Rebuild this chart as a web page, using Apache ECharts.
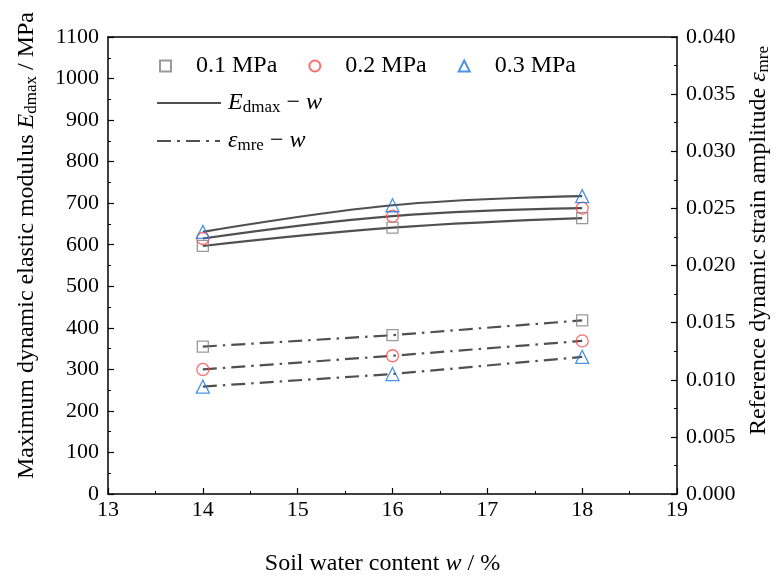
<!DOCTYPE html>
<html>
<head>
<meta charset="utf-8">
<script src="https://cdn.jsdelivr.net/npm/echarts@6/dist/echarts.min.js"></script>
<style>
html,body{margin:0;padding:0;background:#fff;}
#chart{width:781px;height:581px;}
</style>
</head>
<body>
<div id="chart"></div>
<script>
// data
var waterContent = [14, 16, 18];
var pressures = ['0.1 MPa', '0.2 MPa', '0.3 MPa'];
var edmax01 = [597, 641, 664];
var edmax02 = [615, 669, 688];
var edmax03 = [631, 695, 717];
var emre01 = [0.0129, 0.0139, 0.0152];
var emre02 = [0.0109, 0.0121, 0.0134];
var emre03 = [0.0094, 0.0105, 0.0120];
var xTicks = [13, 14, 15, 16, 17, 18, 19];

var font = 'Liberation Serif';
var symbols = ['rect', 'circle', 'triangle'];
var symbolSizes = [11, 12, 13];
var colors = ['#808080', '#ff4a4a', '#1f78e0'];
var lineColor = '#505050';
var dashDot = [14, 6, 2.5, 6];

function pairs(xs, ys) {
	var out = [];
	for (var i = 0; i < xs.length; i++) {
		out.push([xs[i], ys[i]]);
	}
	return out;
}

var edmax = [edmax01, edmax02, edmax03];
var emre = [emre01, emre02, emre03];
var series = [];

// fitted curves (solid) and fitted lines (dash-dot)
for (var i = 0; i < 3; i++) {
	series.push({
		name: 'Edmax',
		type: 'line',
		yAxisIndex: 0,
		smooth: 0.4,
		showSymbol: false,
		symbol: 'none',
		color: lineColor,
		lineStyle: {color: lineColor, width: 2.2},
		z: 2,
		data: pairs(waterContent, edmax[i])
	});
	series.push({
		name: 'emre',
		type: 'line',
		yAxisIndex: 1,
		showSymbol: false,
		symbol: 'none',
		color: lineColor,
		lineStyle: {color: lineColor, width: 2.2, type: dashDot},
		z: 2,
		data: pairs(waterContent, emre[i])
	});
}
// measured points
for (var i = 0; i < 3; i++) {
	var st = {
		name: pressures[i],
		type: 'scatter',
		symbol: symbols[i],
		symbolSize: symbolSizes[i],
		itemStyle: {color: 'rgba(255,255,255,0)', borderColor: colors[i], borderWidth: 1.3},
		z: 3
	};
	series.push(Object.assign({}, st, {yAxisIndex: 0, data: pairs(waterContent, edmax[i])}));
	series.push(Object.assign({}, st, {yAxisIndex: 1, data: pairs(waterContent, emre[i])}));
}

var rich = {
	n: {fontFamily: font, fontSize: 24, color: '#000'},
	i: {fontFamily: font, fontSize: 24, fontStyle: 'italic', color: '#000'},
	s: {fontFamily: font, fontSize: 17, color: '#000', padding: [10, 0, 0, 0]}
};

var solidIcon = 'path://M0,0h64v2h-64z';
var dashIcon = 'path://M0,0h14v2h-14z M20,0h3v2h-3z M29,0h14v2h-14z M49,0h3v2h-3z M58,0h5v2h-5z';

var option = {
	animation: false,
	backgroundColor: '#fff',
	grid: {left: 108, right: 104, top: 37, bottom: 85},
	legend: [{
		data: pressures,
		left: 154,
		top: 49,
		itemWidth: 11,
		itemHeight: 11,
		itemGap: 31,
		textStyle: {fontFamily: font, fontSize: 24, color: '#000', padding: [0, 0, 0, 20]}
	}, {
		data: [{name: 'Edmax', icon: solidIcon}],
		left: 152,
		top: 86,
		itemWidth: 64,
		itemHeight: 2,
		itemStyle: {color: lineColor},
		textStyle: {rich: rich, padding: [0, 0, 0, 2]},
		formatter: function() { return '{i|E}{s|dmax}{n| − }{i|w}'; }
	}, {
		data: [{name: 'emre', icon: dashIcon}],
		left: 152,
		top: 124,
		itemWidth: 63,
		itemHeight: 2,
		itemStyle: {color: lineColor},
		textStyle: {rich: rich, padding: [0, 0, 0, 3]},
		formatter: function() { return '{i|ε}{s|mre}{n| − }{i|w}'; }
	}],
	xAxis: [{
		type: 'value',
		min: 13,
		max: 19,
		interval: 1,
		name: '{n|Soil water content }{i|w}{n| / %}',
		nameLocation: 'middle',
		nameGap: 58,
		nameTextStyle: {rich: rich, padding: [0, 20, 0, 0]},
		axisLine: {show: true, onZero: false, lineStyle: {color: '#000', width: 1.5}},
		axisTick: {inside: true, length: 6, lineStyle: {color: '#000', width: 1.2}},
		minorTick: {show: true, splitNumber: 2, length: 3, lineStyle: {color: '#000'}},
		axisLabel: {fontFamily: font, fontSize: 22, color: '#000', margin: 5,
			formatter: function(v) { return xTicks.indexOf(v) >= 0 ? String(v) : ''; }},
		splitLine: {show: false}
	}, {
		type: 'value',
		position: 'top',
		min: 13,
		max: 19,
		axisLine: {show: true, onZero: false, lineStyle: {color: '#000', width: 1.5}},
		axisTick: {show: false},
		axisLabel: {show: false},
		splitLine: {show: false}
	}],
	yAxis: [{
		type: 'value',
		min: 0,
		max: 1100,
		interval: 100,
		name: '{n|Maximum dynamic elastic modulus }{i|E}{s|dmax}{n| / MPa}',
		nameLocation: 'middle',
		nameGap: 68,
		nameRotate: 90,
		nameTextStyle: {rich: rich, padding: [0, 0, 0, 40]},
		axisLine: {show: true, onZero: false, lineStyle: {color: '#000', width: 1.5}},
		axisTick: {inside: true, length: 6, lineStyle: {color: '#000', width: 1.2}},
		minorTick: {show: true, splitNumber: 2, length: 3, lineStyle: {color: '#000'}},
		axisLabel: {fontFamily: font, fontSize: 22, color: '#000', margin: 9,
			formatter: function(v) { return String(v); }},
		splitLine: {show: false}
	}, {
		type: 'value',
		position: 'right',
		min: 0,
		max: 0.04,
		interval: 0.005,
		name: '{n|Reference dynamic strain amplitude }{i|ε}{s|mre}',
		nameLocation: 'middle',
		nameGap: 62,
		nameRotate: 90,
		nameTextStyle: {rich: rich, padding: [0, 0, 0, 50]},
		axisLine: {show: true, onZero: false, lineStyle: {color: '#000', width: 1.5}},
		axisTick: {inside: true, length: 6, lineStyle: {color: '#000', width: 1.2}},
		minorTick: {show: true, splitNumber: 2, length: 3, lineStyle: {color: '#000'}},
		axisLabel: {fontFamily: font, fontSize: 22, color: '#000', margin: 9,
			formatter: function(v) { return v.toFixed(3); }},
		splitLine: {show: false}
	}],
	series: series
};

var mychart = echarts.init(document.getElementById('chart'));
mychart.setOption(option);
</script>
</body>
</html>
